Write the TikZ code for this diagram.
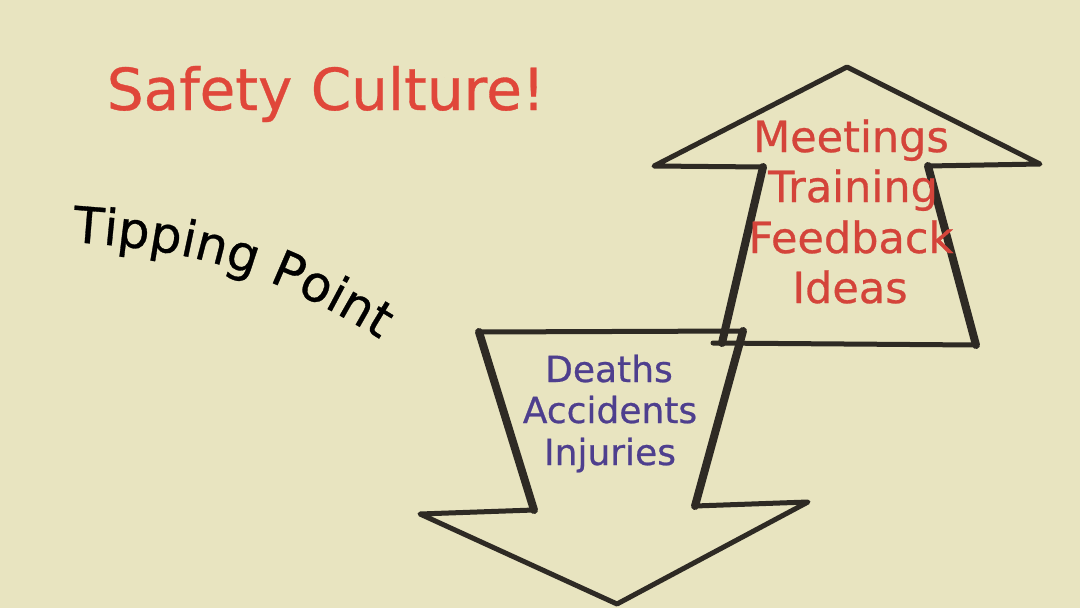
\documentclass[tikz,border=0pt]{standalone}
\usepackage{fontspec}
\setmainfont{DejaVu Sans}[FakeBold=0.6]
\usetikzlibrary{decorations.text}
\definecolor{bg}{HTML}{E8E4C0}
\definecolor{ink}{HTML}{2E2A24}
\definecolor{titlered}{HTML}{E0473A}
\definecolor{wordred}{HTML}{D4443A}
\definecolor{wordpurple}{HTML}{4E3F8E}
\begin{document}
\begin{tikzpicture}[x=1pt,y=-1pt,
  thin/.style={draw=ink, line width=5pt, line join=round, line cap=round},
  thick/.style={draw=ink, line width=8pt, line join=round, line cap=round},
  upword/.style={text=wordred, font=\fontsize{43}{50}\selectfont, anchor=base, inner sep=0pt},
  downword/.style={text=wordpurple, font=\fontsize{36}{42}\selectfont, anchor=base, inner sep=0pt},
  title/.style={text=titlered, font=\fontsize{58}{60}\selectfont, anchor=base, inner sep=0pt}]
\fill[bg] (0,0) rectangle (1080,608);
\useasboundingbox (0,0) rectangle (1080,608);

% title
\node[title] (title) at (326,110) {Safety Culture!};

% Tipping Point along a curve
\path[decorate, decoration={text along path, text align=left,
  text={|\fontsize{50}{50}\selectfont|Tipping Point}}]
  (72,242) .. controls (180,250) and (262,262) .. (400,352);

% up arrow
\coordinate (uT) at (847,67);
\coordinate (uL) at (654,166);
\coordinate (uR) at (1040,164);
\coordinate (uSL) at (763,167);
\coordinate (uSR) at (928,166);
\coordinate (uBL) at (722,343);
\coordinate (uBR) at (976,345);
\coordinate (uBx) at (713,343);
\draw[thin] (uSL) -- (uL) -- (uT) -- (uR) -- (uSR);
\draw[thick] (uSL) -- (uBL);
\draw[thick] (uSR) -- (uBR);
\draw[thin] (uBx) -- (uBR);

% down arrow
\coordinate (dTL) at (479,332);
\coordinate (dTR) at (743,331);
\coordinate (dSL) at (534,510);
\coordinate (dSR) at (695,506);
\coordinate (dL) at (420,514);
\coordinate (dR) at (808,502);
\coordinate (dT) at (617,604);
\draw[thin] (dTL) -- (dTR);
\draw[thick] (dTL) -- (dSL);
\draw[thick] (dTR) -- (dSR);
\draw[thin] (dSL) -- (dL) -- (dT) -- (dR) -- (dSR);

% words
\node[upword] (meet) at (851,152) {Meetings};
\node[upword] (train) at (853,202) {Training};
\node[upword] (feed) at (851,253) {Feedback};
\node[upword] (ideas) at (850,303) {Ideas};

\node[downword] (death) at (609,382) {Deaths};
\node[downword] (acc) at (610,423) {Accidents};
\node[downword] (inj) at (610,465) {Injuries};
\end{tikzpicture}
\end{document}
